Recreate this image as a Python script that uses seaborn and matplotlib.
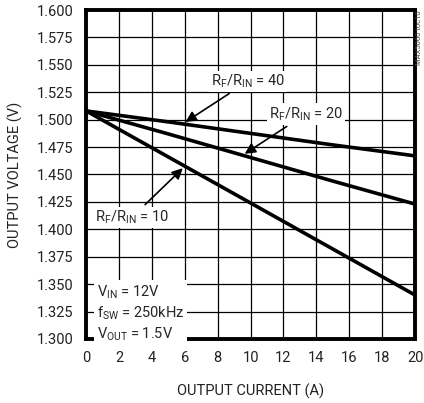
import numpy as np
import pandas as pd
import seaborn as sns
import matplotlib.pyplot as plt

# dados
corrente = [0, 5, 10, 15, 20]
v_ratio40 = [1.508, 1.498, 1.4875, 1.477, 1.467]
v_ratio20 = [1.508, 1.487, 1.4655, 1.444, 1.423]
v_ratio10 = [1.508, 1.466, 1.424, 1.382, 1.340]
xticks = list(range(0, 21, 2))
yticks = [1.300 + 0.025 * i for i in range(13)]

df = pd.DataFrame({
    'corrente': corrente * 3,
    'tensao': v_ratio40 + v_ratio20 + v_ratio10,
    'ratio': ['40'] * 5 + ['20'] * 5 + ['10'] * 5,
})

sns.set_style('white')
plt.rcParams['font.family'] = ['Roboto', 'DejaVu Sans']
plt.rcParams['mathtext.fontset'] = 'custom'
plt.rcParams['mathtext.rm'] = 'Roboto'

fs = 10.5
fig = plt.figure(figsize=(4.24, 4.03), dpi=100)
ax = fig.add_axes([0.203, 0.159, 0.776, 0.816])

sns.lineplot(data=df, x='corrente', y='tensao', hue='ratio', units='ratio',
             estimator=None, palette=['black'] * 3, linewidth=2.6,
             legend=False, ax=ax, zorder=3)

ax.set_xlim(0, 20)
ax.set_ylim(1.300, 1.600)
ax.set_xticks(xticks)
ax.set_yticks(yticks)
ax.set_yticklabels(['%.3f' % v for v in yticks])
ax.grid(True, color='black', linewidth=0.9)
ax.tick_params(length=0, labelsize=fs, pad=9, colors='#222222')
for s in ax.spines.values():
    s.set_linewidth(2.8)
    s.set_color('black')
    s.set_zorder(5)
ax.set_xlabel('OUTPUT CURRENT (A)', fontsize=fs, labelpad=13, color='#222222')
ax.set_ylabel('OUTPUT VOLTAGE (V)', fontsize=fs, labelpad=10, color='#222222')

bbox = dict(facecolor='white', edgecolor='none', pad=1.5)
arr = dict(arrowstyle='-|>', color='black', lw=1.2, mutation_scale=16)
ax.annotate(r'$\mathregular{R_F/R_{IN}}$ = 40', xy=(5.9, 1.4965), xytext=(7.6, 1.535),
            fontsize=fs, bbox=bbox, arrowprops=arr, ha='left', va='center', zorder=6)
ax.annotate(r'$\mathregular{R_F/R_{IN}}$ = 20', xy=(9.5, 1.4675), xytext=(11.1, 1.505),
            fontsize=fs, bbox=bbox, arrowprops=arr, ha='left', va='center', zorder=6)
ax.annotate(r'$\mathregular{R_F/R_{IN}}$ = 10', xy=(6.0, 1.4575), xytext=(0.55, 1.411),
            fontsize=fs, bbox=bbox, arrowprops=arr, ha='left', va='center', zorder=6)

ax.text(0.65, 1.3235,
        '$\\mathregular{V_{IN}}$ = 12V\n$\\mathregular{f_{SW}}$ = 250kHz\n$\\mathregular{V_{OUT}}$ = 1.5V',
        fontsize=fs, ha='left', va='center', linespacing=1.3,
        bbox=dict(facecolor='white', edgecolor='none', pad=2), zorder=6)

fig.text(0.988, 0.975, 'MAX5060 toc10', rotation=90, fontsize=5.5, ha='center', va='top',
         color='#444444')

fig.savefig('out.png', dpi=100)
